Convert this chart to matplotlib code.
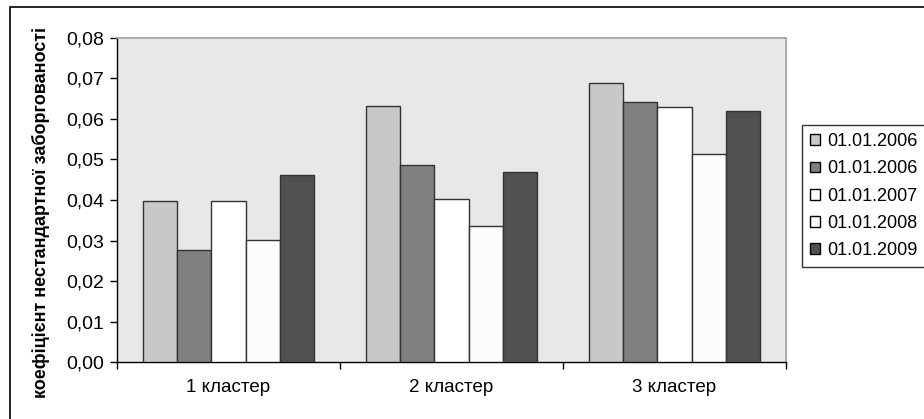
import numpy as np
import matplotlib.pyplot as plt
from matplotlib.patches import Rectangle

# data
clusters = ['1 кластер', '2 кластер', '3 кластер']
series_labels = ['01.01.2006', '01.01.2006', '01.01.2007', '01.01.2008', '01.01.2009']
values = [
    [0.0398, 0.0632, 0.0688],
    [0.0277, 0.0487, 0.0642],
    [0.0398, 0.0402, 0.0628],
    [0.0302, 0.0335, 0.0514],
    [0.0462, 0.0469, 0.0620],
]
colors = ['#c8c8c8', '#808080', '#ffffff', '#fcfcfc', '#505050']
y_ticks = [0.00, 0.01, 0.02, 0.03, 0.04, 0.05, 0.06, 0.07, 0.08]

plt.rcParams['font.family'] = ['Liberation Sans', 'DejaVu Sans']

fig = plt.figure(figsize=(9.24, 4.19), dpi=100)
ax = fig.add_axes([117 / 924, 1 - 362.3 / 419, (786 - 117) / 924, (362.3 - 37.7) / 419])

# outer chart border
fig.patches.append(Rectangle((10 / 924, -0.1), 2, 1 - 7 / 419 + 0.1, transform=fig.transFigure,
                             fill=False, edgecolor='black', linewidth=1.2))

n = len(values)
width = 1 / (n + 1.5)
x = np.arange(len(clusters))
for i in range(n):
    offs = (i - (n - 1) / 2) * width
    ax.bar(x + offs, values[i], width=width, color=colors[i], edgecolor='#333333',
           linewidth=1.0, label=series_labels[i], zorder=3)

ax.set_facecolor('#e8e8e8')
ax.set_xlim(-0.5, len(clusters) - 0.5)
ax.set_ylim(0, 0.08)
ax.set_yticks(y_ticks)
ax.set_yticklabels([f'{v:.2f}'.replace('.', ',') for v in y_ticks], fontsize=14)

ax.set_xticks(np.arange(len(clusters) + 1) - 0.5)
ax.set_xticklabels([])
ax.set_xticks(x, minor=True)
ax.set_xticklabels(clusters, minor=True, fontsize=13.5,
                   family=['Liberation Sans Narrow', 'Liberation Sans'])
ax.tick_params(axis='x', which='major', direction='out', length=5, width=1, color='black')
ax.tick_params(axis='x', which='minor', length=0, pad=12)
ax.tick_params(axis='y', direction='out', length=5, width=1, pad=4)

for s in ['top', 'right']:
    ax.spines[s].set_color('#a0a0a0')
    ax.spines[s].set_linewidth(1.2)
for s in ['left', 'bottom']:
    ax.spines[s].set_color('black')
    ax.spines[s].set_linewidth(1.0)

fig.text(41 / 924, 1 - 212 / 419, 'коефіцієнт нестандартної заборгованості', rotation=90,
         fontsize=13, fontweight='bold', ha='center', va='center')

leg = fig.legend(loc='upper left', bbox_to_anchor=(802 / 924, 1 - 125 / 419),
                 frameon=True, fancybox=False, fontsize=13, handlelength=0.55,
                 handleheight=0.55, handletextpad=0.4, labelspacing=0.57,
                 borderpad=0.45, borderaxespad=0)
leg.get_frame().set_edgecolor('black')
leg.get_frame().set_linewidth(1.0)
for h in leg.legend_handles:
    h.set_edgecolor('black')

fig.savefig('out.png', dpi=100)
